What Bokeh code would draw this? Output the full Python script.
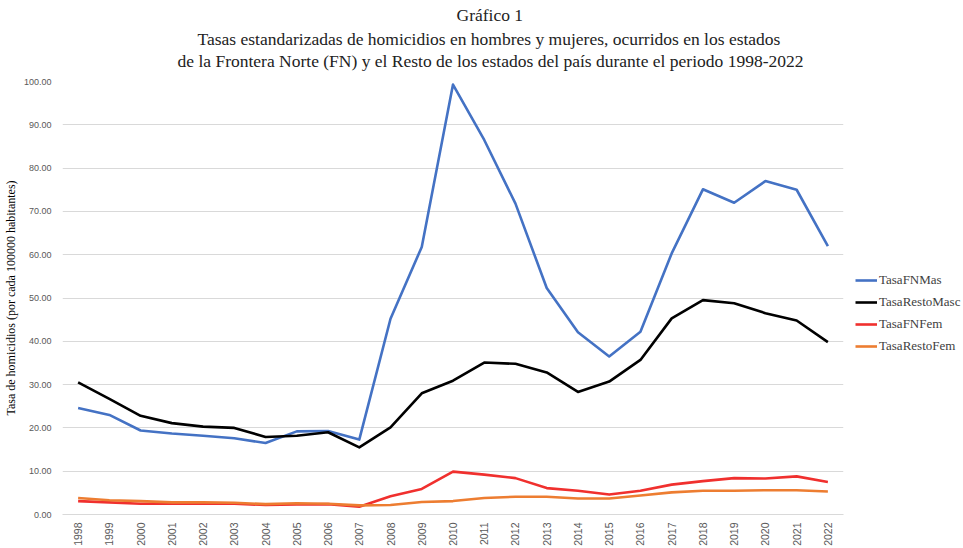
import math
from bokeh.plotting import figure
from bokeh.models import (FactorRange, Range1d, FixedTicker, NumeralTickFormatter,
                          Legend, LegendItem, Title)
from bokeh.embed import file_html
from bokeh.resources import INLINE

years = [str(y) for y in range(1998, 2023)]

tasa_fn_mas = [24.6, 23.0, 19.4, 18.7, 18.2, 17.6, 16.5, 19.2, 19.3, 17.3,
               45.2, 61.8, 99.3, 86.5, 71.8, 52.3, 42.1, 36.5, 42.2, 60.3,
               75.1, 72.0, 77.0, 75.0, 62.0]
tasa_resto_masc = [30.5, 26.7, 22.8, 21.1, 20.3, 20.0, 17.9, 18.2, 19.0, 15.5,
                   20.1, 28.0, 30.9, 35.1, 34.8, 32.8, 28.3, 30.7, 35.7, 45.3,
                   49.5, 48.8, 46.5, 44.8, 39.8]
tasa_fn_fem = [3.1, 2.8, 2.5, 2.5, 2.5, 2.5, 2.2, 2.3, 2.4, 1.8,
               4.2, 5.9, 9.9, 9.2, 8.4, 6.1, 5.5, 4.6, 5.5, 6.9,
               7.7, 8.4, 8.3, 8.8, 7.5]
tasa_resto_fem = [3.8, 3.3, 3.1, 2.8, 2.8, 2.7, 2.4, 2.6, 2.5, 2.1,
                  2.2, 2.9, 3.1, 3.8, 4.1, 4.1, 3.7, 3.7, 4.4, 5.1,
                  5.5, 5.5, 5.6, 5.6, 5.3]

series_names = ["TasaFNMas", "TasaRestoMasc", "TasaFNFem", "TasaRestoFem"]
series_colors = ["#4472C4", "#000000", "#F0302E", "#ED7D31"]
series_values = [tasa_fn_mas, tasa_resto_masc, tasa_fn_fem, tasa_resto_fem]

y_ticks = [0, 10, 20, 30, 40, 50, 60, 70, 80, 90, 100]

title_lines = [
    "Gráfico 1",
    "Tasas estandarizadas  de homicidios  en hombres y mujeres, ocurridos en los estados",
    "de la Frontera Norte (FN) y el Resto de los estados del país durante el periodo 1998-2022",
]
y_label = "Tasa de homicidios (por cada 100000 habitantes)"

serif = "Liberation Serif"
sans = "Liberation Sans"

FW, FH = 781, 433

p = figure(x_range=FactorRange(*years), y_range=Range1d(0, 100),
           frame_width=FW, frame_height=FH,
           min_border_left=52, min_border_right=113, min_border_top=8,
           min_border_bottom=20,
           output_backend="svg", toolbar_location=None)
p.outline_line_color = None
p.background_fill_color = "white"

renderers = []
for name, color, vals in zip(series_names, series_colors, series_values):
    r = p.line(x=years, y=vals, line_color=color, line_width=2.6, line_join="round")
    renderers.append((name, r))

# spacer between the title block and the plot frame
p.add_layout(Title(text=" ", text_font_size="8px", standoff=0), "above")
# Title lines: left-aligned with offsets so that each is centred near x=490 of the page
title_offsets = [394, 135, 115]
title_standoffs = [4, 0, 0]
for txt, off, so in reversed(list(zip(title_lines, title_offsets, title_standoffs))):
    p.add_layout(Title(text=txt, align="left", offset=off, standoff=so,
                       text_font=serif, text_font_size="17.5px",
                       text_font_style="normal", text_color="#222222"), "above")

# Axes
p.yaxis.ticker = FixedTicker(ticks=y_ticks)
p.yaxis.formatter = NumeralTickFormatter(format="0.00")
p.yaxis.axis_line_color = None
p.yaxis.major_tick_line_color = None
p.yaxis.minor_tick_line_color = None
p.yaxis.major_label_text_font = sans
p.yaxis.major_label_text_font_size = "9px"
p.yaxis.major_label_text_color = "#595959"
p.yaxis.major_label_standoff = 5
p.yaxis.axis_label = y_label
p.yaxis.axis_label_text_font = serif
p.yaxis.axis_label_text_font_size = "12px"
p.yaxis.axis_label_text_font_style = "normal"
p.yaxis.axis_label_text_color = "#000000"
p.yaxis.axis_label_standoff = 3

p.xaxis.axis_line_color = "#D9D9D9"
p.xaxis.axis_line_width = 1
p.xaxis.major_tick_line_color = None
p.xaxis.minor_tick_line_color = None
p.xaxis.major_label_orientation = math.pi / 2
p.xaxis.major_label_text_font = sans
p.xaxis.major_label_text_font_size = "10.5px"
p.xaxis.major_label_text_color = "#595959"
p.xaxis.major_label_standoff = 2

p.xgrid.grid_line_color = None
p.ygrid.grid_line_color = "#D9D9D9"
p.ygrid.grid_line_width = 1

legend = Legend(items=[LegendItem(label=n, renderers=[r]) for n, r in renderers],
                location=(12, 158), orientation="vertical",
                label_text_font=serif, label_text_font_size="13px",
                label_text_color="#404040", glyph_width=22, glyph_height=16,
                label_height=20, spacing=2, padding=0, margin=0,
                border_line_color=None, background_fill_alpha=0, label_standoff=2)
p.add_layout(legend, "right")

open("out.html", "w").write(file_html(p, INLINE))
